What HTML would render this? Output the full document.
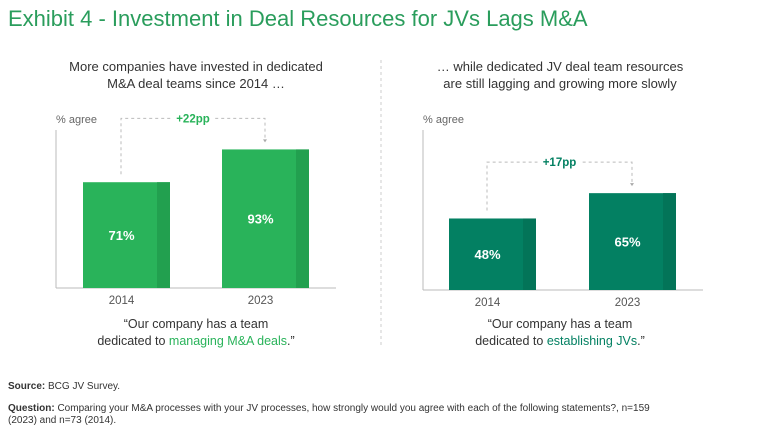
<!DOCTYPE html>
<html><head><meta charset="utf-8"><style>
body{margin:0;width:768px;height:440px;background:#fff;font-family:"Liberation Sans",sans-serif;position:relative;overflow:hidden;color:#333}
.t{position:absolute;white-space:nowrap}
</style></head><body>
<div class="t" style="left:8px;top:6px;font-size:22px;color:#2a9d5c">Exhibit 4 - Investment in Deal Resources for JVs Lags M&amp;A</div>
<div class="t" style="left:40px;top:58px;width:312px;text-align:center;font-size:13px;line-height:17px;color:#333">More companies have invested in dedicated<br>M&amp;A deal teams since 2014 …</div>
<div class="t" style="left:404px;top:58px;width:312px;text-align:center;font-size:13px;line-height:17px;color:#333">… while dedicated JV deal team resources<br>are still lagging and growing more slowly</div>
<svg width="768" height="440" style="position:absolute;left:0;top:0" id="svg"></svg>
<div class="t" style="left:40px;top:316px;width:312px;text-align:center;font-size:12.5px;line-height:17px">“Our company has a team<br>dedicated to <span style="color:#29b35a">managing M&amp;A deals</span>.”</div>
<div class="t" style="left:404px;top:316px;width:312px;text-align:center;font-size:12.5px;line-height:17px">“Our company has a team<br>dedicated to <span style="color:#038062">establishing JVs</span>.”</div>
<div class="t" style="left:8px;top:381px;font-size:10px;color:#333"><b>Source:</b> BCG JV Survey.</div>
<div class="t" style="left:8px;top:403px;font-size:10px;line-height:12px;color:#333;white-space:normal;width:730px"><b>Question:</b> Comparing your M&amp;A processes with your JV processes, how strongly would you agree with each of the following statements?, n=159<br>(2023) and n=73 (2014).</div>
<script>
const categories=["2014","2023"];
const mnaValues=[71,93];
const jvValues=[48,65];
const deltaLabels=["+22pp","+17pp"];
const svg=document.getElementById('svg');
const NS="http://www.w3.org/2000/svg";
function mk(tag,attrs){const e=document.createElementNS(NS,tag);for(const k in attrs)e.setAttribute(k,attrs[k]);svg.appendChild(e);return e;}
function drawChart(axisX,base,barXs,vals,color,dark,delta,prefix){
  const y=v=>base-v*1.49;
  const ax=mk('line',{x1:axisX,y1:130,x2:axisX,y2:base,stroke:'#bbb','stroke-width':1});
  
  const bx=mk('line',{x1:axisX,y1:base,x2:axisX+280,y2:base,stroke:'#bbb','stroke-width':1});
  
  const yl=mk('text',{x:axisX,y:123,'font-size':11,fill:'#666'});yl.textContent='% agree';
  
  vals.forEach((v,i)=>{
    const x=barXs[i],top=y(v),w=87;
    const r=mk('rect',{x:x,y:top,width:w,height:base-top,fill:color});
    
    const s=mk('rect',{x:x+w-13,y:top,width:13,height:base-top,fill:dark});
    
    const t=mk('text',{x:x+w/2-5,y:(top+base)/2+5,'font-size':13,'font-weight':'bold',fill:'#fff','text-anchor':'middle'});
    t.textContent=v+'%';
    const c=mk('text',{x:x+w/2-5,y:base+16,'font-size':11.5,fill:'#555','text-anchor':'middle'});
    c.textContent=categories[i];
  });
  const x1=barXs[0]+38,x2=barXs[1]+43,top1=y(vals[0]),top2=y(vals[1]);
  const ly=Math.min(top1,top2)-31;
  const p=mk('path',{d:`M${x1},${top1-8} V${ly} H${x2} V${top2-8}`,fill:'none',stroke:'#bbb','stroke-dasharray':'3,3'});
  
  const a=mk('path',{d:`M${x2-2},${top2-10} L${x2+2},${top2-10} L${x2},${top2-7}Z`,fill:'#aaa'});
  
  const bg=mk('rect',{x:(x1+x2)/2-22,y:ly-8,width:44,height:16,fill:'#fff'});
  
  const dt=mk('text',{x:(x1+x2)/2,y:ly+4,'font-size':11.5,'font-weight':'bold',fill:color,'text-anchor':'middle'});
  dt.textContent=delta;
}
drawChart(56,288,[83,222],mnaValues,'#29b35a','#22a04f',deltaLabels[0],'mna');
drawChart(423,290,[449,589],jvValues,'#038062','#037458',deltaLabels[1],'jv');
const d=mk('line',{x1:381,y1:60,x2:381,y2:345,stroke:'#ccc','stroke-dasharray':'3,3'});

</script>
</body></html>
